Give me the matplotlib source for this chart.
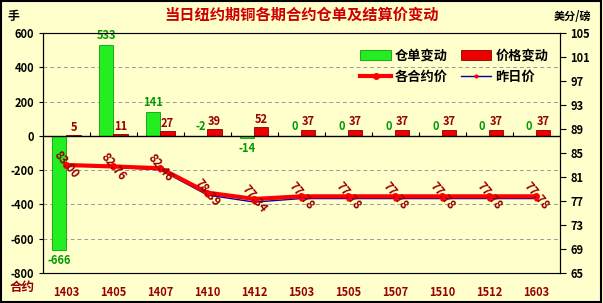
import matplotlib.pyplot as plt
import numpy as np

plt.rcParams['font.family'] = ['Noto Sans CJK SC', 'DejaVu Sans']

contracts = ['1403', '1405', '1407', '1410', '1412', '1503', '1505', '1507', '1510', '1512', '1603']
stock_chg = [-666, 533, 141, -2, -14, 0, 0, 0, 0, 0, 0]
price_chg = [5, 11, 27, 39, 52, 37, 37, 37, 37, 37, 37]
price_now = [83.00, 82.76, 82.46, 78.39, 77.34, 77.78, 77.78, 77.78, 77.78, 77.78, 77.78]
price_prev = [82.95, 82.65, 82.19, 78.00, 76.82, 77.41, 77.41, 77.41, 77.41, 77.41, 77.41]

bg = '#FFFFCC'
dark_red = '#990000'
green = '#22EE22'

fig = plt.figure(figsize=(6.03, 3.03), dpi=100, facecolor=bg)
ax = fig.add_axes([0.0713, 0.099, 0.857, 0.792], facecolor=bg)
x = np.arange(len(contracts))
w = 0.3

b1 = ax.bar(x - w / 2, stock_chg, w, color=green, edgecolor='#119911', linewidth=0.6, zorder=3)
b2 = ax.bar(x + w / 2, price_chg, w, color='#EE0000', edgecolor='#880000', linewidth=0.6, zorder=3)

for xi, v in zip(x, stock_chg):
    if v >= -5:
        ax.annotate(str(v), (xi - w / 2, max(v, 0)), xytext=(0, 2), textcoords='offset points',
                    ha='center', va='bottom', color='#009900', fontsize=8, fontweight='bold')
    else:
        ax.annotate(str(v), (xi - w / 2, v), xytext=(0, -3), textcoords='offset points',
                    ha='center', va='top', color='#009900', fontsize=8, fontweight='bold')
for xi, v in zip(x, price_chg):
    ax.annotate(str(v), (xi + w / 2, v), xytext=(0, 1), textcoords='offset points',
                ha='center', va='bottom', color=dark_red, fontsize=8, fontweight='bold')

ax.set_xlim(-0.5, len(contracts) - 0.5)
ax.set_ylim(-800, 600)
ax.set_yticks(range(-800, 601, 200))
ax.set_yticklabels([str(t) for t in range(-800, 601, 200)], fontsize=8, fontweight='bold')
for t in [-600, -400, -200, 200, 400]:
    ax.axhline(t, color='#999999', linestyle=(0, (4, 3)), linewidth=0.7, zorder=1)
ax.axhline(0, color='black', linewidth=1, zorder=4)
ax.vlines(np.arange(len(contracts)) + 0.5, 0, 20, color='black', linewidth=0.8, zorder=4)
ax.set_xticks(x)
ax.set_xticklabels(contracts, fontsize=8, fontweight='bold', color=dark_red)
ax.tick_params(axis='x', length=0, pad=9)
ax.tick_params(axis='y', length=3, direction='out')
for s in ['top', 'bottom']:
    ax.spines[s].set_color('#888888')
ax.spines['left'].set_color('black')
ax.spines['right'].set_color('black')

ax2 = ax.twinx()
ax2.set_ylim(65, 105)
ax2.set_yticks(range(65, 106, 4))
ax2.set_yticklabels([str(t) for t in range(65, 106, 4)], fontsize=8, fontweight='bold')
ax2.tick_params(axis='y', length=4, direction='out')
l2, = ax2.plot(x, price_prev, color='#0000AA', linewidth=1, marker='o', markersize=2,
               markerfacecolor='red', markeredgecolor='red', zorder=4)
l1, = ax2.plot(x, price_now, color='#FF0000', linewidth=3, marker='o', markersize=4,
               markerfacecolor='red', markeredgecolor='red', zorder=5)
for xi, v in zip(x, price_now):
    ax2.text(xi, v, '%.2f' % v, rotation=-50, ha='center', va='center', color=dark_red,
             fontsize=8.5, fontweight='bold', rotation_mode='anchor', zorder=6)

fig.legend([b1, l1, b2, l2], ['仓单变动', '各合约价', '价格变动', '昨日价'], ncol=2, frameon=False,
           loc='upper left', bbox_to_anchor=(0.578, 0.88), prop={'weight': 'bold', 'size': 9.5},
           columnspacing=1.0, handlelength=2.3, handleheight=0.8, handletextpad=0.3,
           labelspacing=0.6)

fig.text(0.5, 0.95, '当日纽约期铜各期合约仓单及结算价变动', ha='center', va='center',
         color='#CC0000', fontsize=11, fontweight='bold')
fig.text(0.022, 0.945, '手', ha='center', va='center', fontsize=8.5, fontweight='bold')
fig.text(0.95, 0.945, '美分/磅', ha='center', va='center', fontsize=8, fontweight='bold')
fig.text(0.037, 0.052, '合约', ha='center', va='center', fontsize=9, fontweight='bold', color=dark_red)

fig.patches.append(plt.Rectangle((0.002, 0.003), 0.995, 0.994, transform=fig.transFigure,
                                 fill=False, edgecolor='black', linewidth=1.5))
fig.savefig('out.png', dpi=100, facecolor=bg)
